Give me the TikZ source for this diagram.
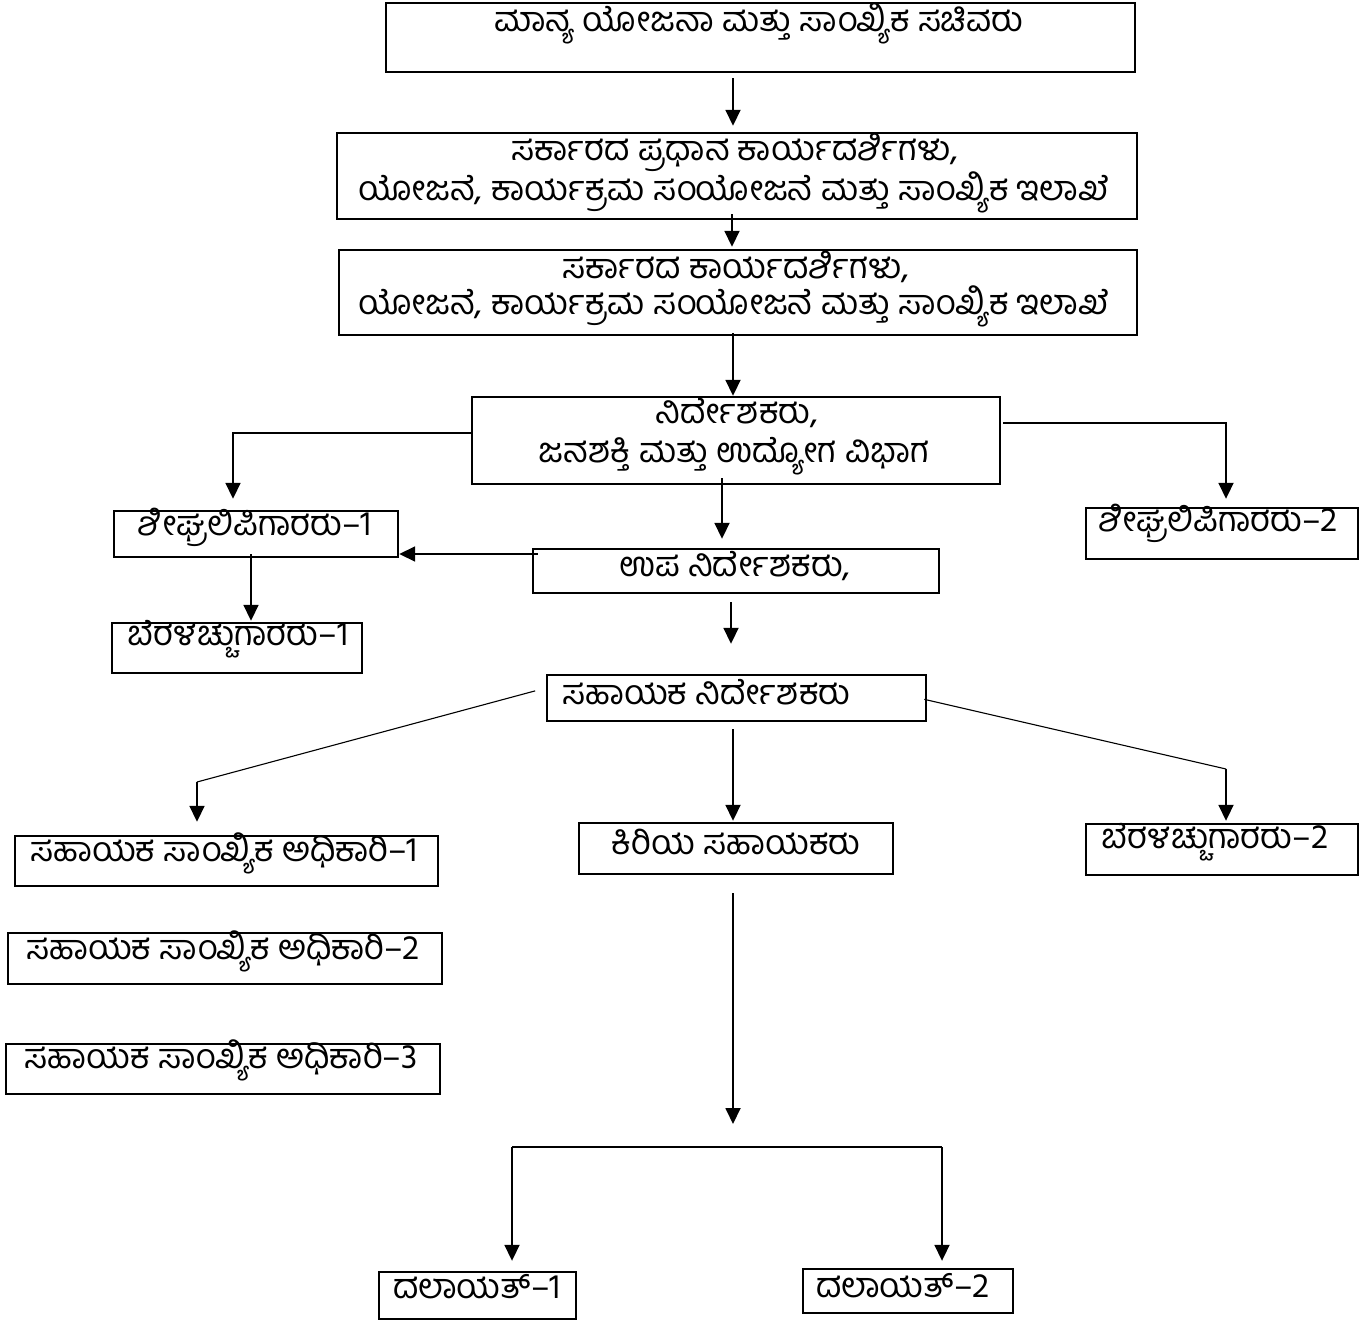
\documentclass[tikz,border=0pt]{standalone}
\usepackage{fontspec}
\newfontfamily\kn[Script=Kannada]{Hind Mysuru}
\usetikzlibrary{arrows.meta}
\begin{document}
\begin{tikzpicture}[x=1pt,y=-1pt,
  box/.style={draw, line width=2.4pt, inner sep=0pt, rectangle},
  txt/.style={inner sep=0pt, font=\kn\fontsize{34.5}{40}\selectfont, align=center, yshift=1pt},
  conn/.style={line width=1.8pt},
  thin/.style={line width=1.1pt},
  arr/.style={line width=1.8pt, -{Triangle[width=15pt,length=16pt]}}]
\useasboundingbox (0,0) rectangle (1370,1322);
\fill[white] (0,0) rectangle (1370,1322);
% boxes: (left,top) rectangle (right,bottom)
\newcommand{\mybox}[5]{\node[box, minimum width=#4-#2, minimum height=#5-#3] (#1) at ({(#2+#4)/2},{(#3+#5)/2}) {};}
\mybox{b1}{386}{3}{1135}{72}
\mybox{b2}{337}{133}{1137}{219}
\mybox{b3}{339}{250}{1137}{335}
\mybox{b4}{472}{397}{1000}{484}
\mybox{s1}{114}{511}{398}{557}
\mybox{up}{533}{549}{939}{593}
\mybox{be1}{112}{623}{362}{673}
\mybox{s2}{1086}{508}{1358}{559}
\mybox{sa}{547}{675}{926}{721}
\mybox{ssa1}{15}{836}{438}{886}
\mybox{ki}{579}{823}{893}{874}
\mybox{be2}{1086}{824}{1358}{875}
\mybox{ssa2}{8}{933}{442}{984}
\mybox{ssa3}{6}{1044}{440}{1094}
\mybox{d1}{379}{1272}{576}{1319}
\mybox{d2}{803}{1269}{1013}{1313}
% texts
\node[txt] (t1) at (759,24) {ಮಾನ್ಯ ಯೋಜನಾ ಮತ್ತು ಸಾಂಖ್ಯಿಕ ಸಚಿವರು};
\node[txt] (t2a) at (735,153) {ಸರ್ಕಾರದ ಪ್ರಧಾನ ಕಾರ್ಯದರ್ಶಿಗಳು,};
\node[txt] (t2b) at (734,193) {ಯೋಜನೆ, ಕಾರ್ಯಕ್ರಮ ಸಂಯೋಜನೆ ಮತ್ತು ಸಾಂಖ್ಯಿಕ ಇಲಾಖೆ};
\node[txt] (t3a) at (736,268) {ಸರ್ಕಾರದ ಕಾರ್ಯದರ್ಶಿಗಳು,};
\node[txt] (t3b) at (734,307) {ಯೋಜನೆ, ಕಾರ್ಯಕ್ರಮ ಸಂಯೋಜನೆ ಮತ್ತು ಸಾಂಖ್ಯಿಕ ಇಲಾಖೆ};
\node[txt] (t4a) at (737,414) {ನಿರ್ದೇಶಕರು,};
\node[txt] (t4b) at (734,457) {ಜನಶಕ್ತಿ ಮತ್ತು ಉದ್ಯೋಗ ವಿಭಾಗ};
\node[txt] (ts1) at (255,528) {ಶೀಘ್ರಲಿಪಿಗಾರರು–1};
\node[txt] (tup) at (735,567) {ಉಪ ನಿರ್ದೇಶಕರು,};
\node[txt] (tbe1) at (238,640) {ಬೆರಳಚ್ಚುಗಾರರು–1};
\node[txt] (ts2) at (1218,524) {ಶೀಘ್ರಲಿಪಿಗಾರರು–2};
\node[txt, anchor=west] (tsa) at (562,693) {ಸಹಾಯಕ ನಿರ್ದೇಶಕರು};
\node[txt] (tssa1) at (224,854) {ಸಹಾಯಕ ಸಾಂಖ್ಯಿಕ ಅಧಿಕಾರಿ–1};
\node[txt] (tki) at (736,843) {ಕಿರಿಯ ಸಹಾಯಕರು};
\node[txt] (tbe2) at (1215,843) {ಬೆರಳಚ್ಚುಗಾರರು–2};
\node[txt] (tssa2) at (223,952) {ಸಹಾಯಕ ಸಾಂಖ್ಯಿಕ ಅಧಿಕಾರಿ–2};
\node[txt] (tssa3) at (221,1061) {ಸಹಾಯಕ ಸಾಂಖ್ಯಿಕ ಅಧಿಕಾರಿ–3};
\node[txt] (td1) at (477,1288) {ದಲಾಯತ್–1};
\node[txt] (td2) at (903,1287) {ದಲಾಯತ್–2};
% column coordinates
\coordinate (xa) at (733,0);
\coordinate (xb) at (732,0);
\coordinate (xc) at (722,0);
\coordinate (xd) at (731,0);
\coordinate (xs1) at (251,0);
\coordinate (yl) at (0,433);
\coordinate (yr) at (0,423);
\coordinate (yu) at (0,554);
\coordinate (lc) at (233,433);
\coordinate (rc) at (1226,423);
\coordinate (sal) at (0,688);
\coordinate (sar) at (0,700);
\coordinate (dl) at (197,782);
\coordinate (dr) at (1226,769);
\coordinate (bl) at (512,1147);
\coordinate (brr) at (942,1147);
\coordinate (kend) at (733,1124);
% connectors
\draw[arr, shorten <=5pt, shorten >=6pt] (xa |- b1.south) -- (xa |- b2.north);
\draw[arr, shorten <=-6pt, shorten >=2pt] (xb |- b2.south) -- (xb |- b3.north);
\draw[arr, shorten <=-3pt] (xa |- b3.south) -- (xa |- b4.north);
\draw[arr, shorten >=11pt] (b4.west |- yl) -- (lc) -- (lc |- s1.north);
\draw[arr, shorten <=2pt, shorten >=8pt] (b4.east |- yr) -- (rc) -- (rc |- s2.north);
\draw[arr, shorten <=-7pt, shorten >=9pt] (xc |- b4.south) -- (xc |- up.north);
\draw[arr, shorten <=-6pt] (up.west |- yu) -- (s1.east |- yu);
\draw[arr, shorten <=-4pt, shorten >=1pt] (xs1 |- s1.south) -- (xs1 |- be1.north);
\draw[arr, shorten <=8pt, shorten >=30pt] (xd |- up.south) -- (xd |- sa.north);
\draw[thin, shorten <=11pt] (sa.west |- sal) -- (dl);
\draw[arr, shorten >=13pt] (dl) -- (dl |- ssa1.north);
\draw[thin, shorten <=-3pt] (sa.east |- sar) -- (dr);
\draw[arr, shorten >=2pt] (dr) -- (dr |- be2.north);
\draw[arr, shorten <=7pt, shorten >=1pt] (xa |- sa.south) -- (xa |- ki.north);
\draw[arr, shorten <=18pt] (xa |- ki.south) -- (kend);
\draw[conn] (bl) -- (brr);
\draw[arr, shorten >=10pt] (bl) -- (bl |- d1.north);
\draw[arr, shorten >=7pt] (brr) -- (brr |- d2.north);
\end{tikzpicture}
\end{document}
